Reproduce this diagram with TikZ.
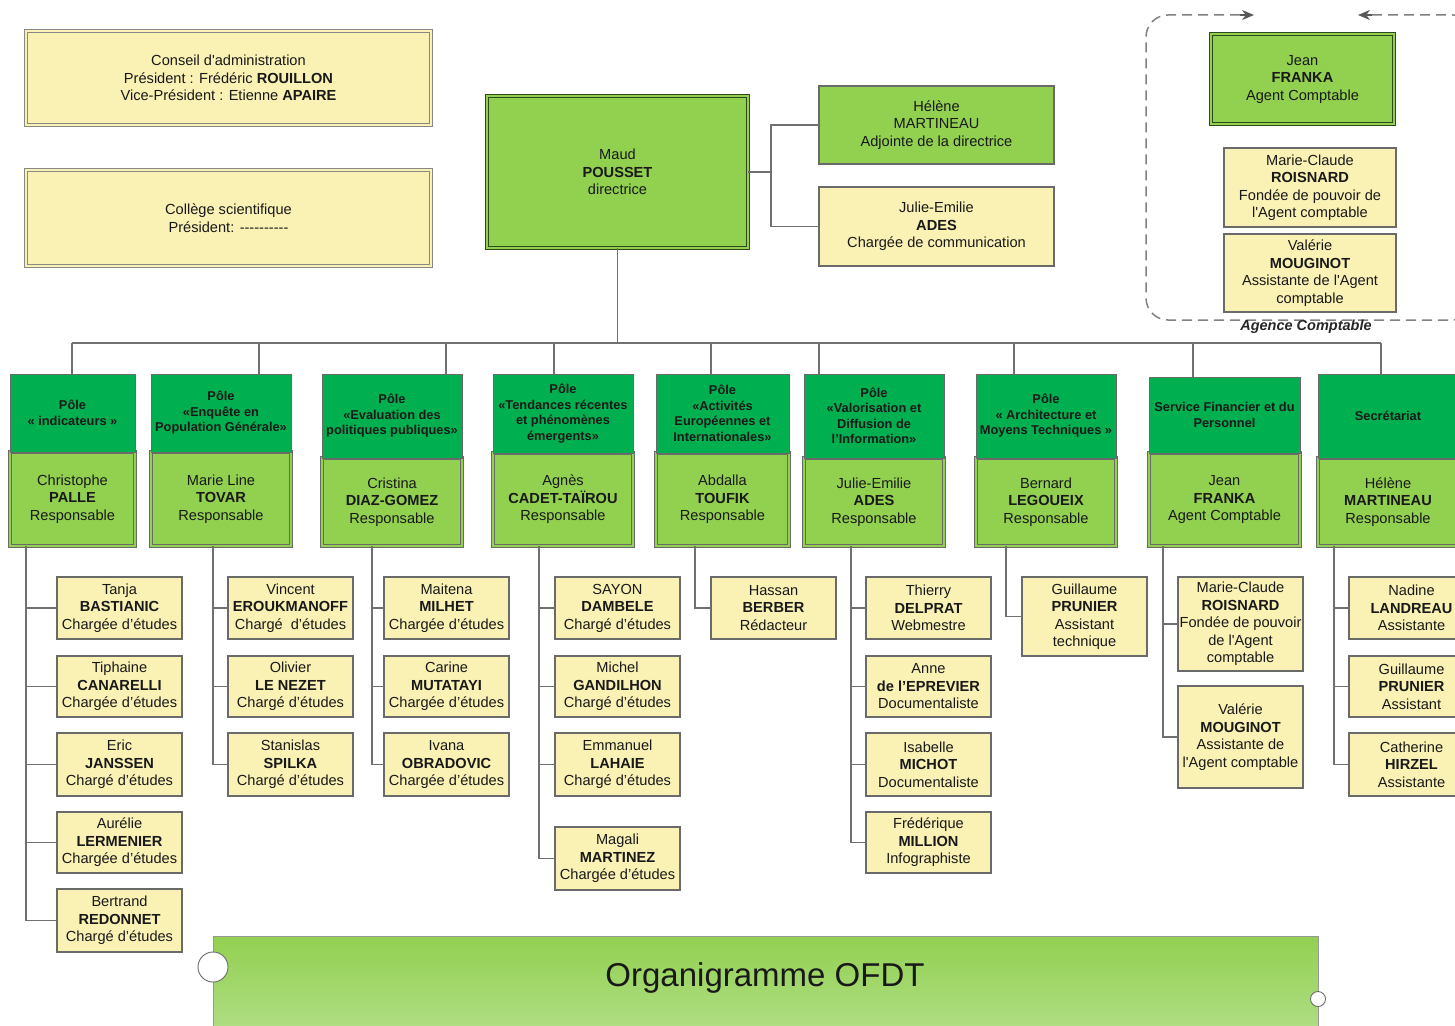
\documentclass[tikz,border=0pt]{standalone}
\usepackage{fontspec}
\setmainfont{Liberation Sans}[Ligatures=TeXOff]
\usetikzlibrary{arrows.meta}
\definecolor{cyel}{HTML}{FAF1B4}
\definecolor{clight}{HTML}{92D050}
\definecolor{cdark}{HTML}{00B050}
\definecolor{cbord}{HTML}{6A6A6A}
\definecolor{cconn}{HTML}{707070}
\definecolor{cdir}{HTML}{2E4A1C}
\definecolor{cban}{HTML}{B5E08E}
\newcommand\fsA{\fontsize{14.6}{17.5}\selectfont}
\newcommand\fsH{\fontsize{12.8}{15.5}\selectfont\bfseries}
\newcommand\bx[7]{\node[#6, minimum width={#4-#2}, minimum height={#5-#3}] (#1) at ({(#2+#4)/2},{(#3+#5)/2}) {#7};}
\tikzset{
  base/.style={rectangle, inner sep=0pt, outer sep=0pt, align=center, font=\fsA, text=black!90},
  staff/.style={base, fill=cyel, draw=cbord, line width=1.2pt},
  head/.style={base, fill=cdark, draw=cbord, line width=1pt, font=\fsH},
  resp/.style={base, fill=clight, draw=cbord, line width=0.9pt, double=clight, double distance=2.6pt},
  topbox/.style={base, fill=cyel, draw=cbord!80, line width=0.9pt, double=cyel, double distance=2.6pt},
  dirbox/.style={base, fill=clight, draw=cdir, line width=1.1pt, double=clight, double distance=2.6pt},
  gbox/.style={base, fill=clight, draw=cbord, line width=1.2pt},
  conn/.style={draw=cconn, line width=1.3pt},
  dashbox/.style={draw=black!50, line width=1.5pt, dash pattern=on 10pt off 6pt, rounded corners=22pt},
  tipline/.style={draw=black!65, line width=1.5pt, -{Stealth[length=12pt,width=10pt]}},
}
\begin{document}
\begin{tikzpicture}[x=1pt,y=-1pt]
\useasboundingbox (0,0) rectangle (1455,1025);
\clip (0,0) rectangle (1455,1025);
\fill[white] (0,0) rectangle (1455,1025);

% top left boxes
\bx{conseil}{26}{31}{431}{125}{topbox}{Conseil d'administration\\Président : Frédéric \textbf{ROUILLON}\\Vice-Président : Etienne \textbf{APAIRE}}
\bx{college}{26}{170}{431}{266}{topbox}{Collège scientifique\\Président: ----------}

% director
\bx{dir}{487}{96}{748}{248}{dirbox}{Maud\\\textbf{POUSSET}\\directrice}
\bx{mart}{819}{86}{1054}{164}{gbox}{Hélène\\MARTINEAU\\Adjointe de la directrice}
\bx{ades}{819}{187}{1054}{266}{staff}{Julie-Emilie\\\textbf{ADES}\\Chargée de communication}
\draw[conn] (dir.east) -- ([xshift=23]dir.east) |- (mart.west);
\draw[conn] ([xshift=23]dir.east) |- (ades.west);

% agency
\draw[dashbox] (1240,15) -- (1146,15) -- (1146,320) -- (1475,320) -- (1475,15) -- (1372,15);
\coordinate (arL) at (1254,15);
\coordinate (arR) at (1358,15);
\draw[tipline] ([xshift=-14]arL) -- (arL);
\draw[tipline] ([xshift=14]arR) -- (arR);
\bx{afranka}{1211}{34}{1394}{124}{dirbox}{Jean\\\textbf{FRANKA}\\Agent Comptable}
\bx{aroisn}{1224}{148}{1396}{227}{staff}{Marie-Claude\\\textbf{ROISNARD}\\Fondée de pouvoir de\\l'Agent comptable}
\bx{amoug}{1224}{234}{1396}{312}{staff}{Valérie\\\textbf{MOUGINOT}\\Assistante de l'Agent\\comptable}
\node[font=\fontsize{14.5}{16}\selectfont\bfseries\itshape, text=black!85] (agence) at (1306,327) {Agence Comptable};

% bus
\coordinate (d1) at (72,343);
\coordinate (d2) at (259,343);
\coordinate (d3) at (446,343);
\coordinate (d4) at (554,343);
\coordinate (d5) at (711,343);
\coordinate (d6) at (819,343);
\coordinate (d7) at (1014,343);
\coordinate (d8) at (1193,343);
\coordinate (d9) at (1381,343);
\draw[conn] (d1) -- (d9);
\draw[conn] (dir.south) -- (dir.south |- d1);

% poles
\bx{r1}{10}{452}{135}{546}{resp}{Christophe\\\textbf{PALLE}\\Responsable}
\bx{h1}{10}{374}{135}{452}{head}{Pôle\\« indicateurs »}
\bx{r2}{151}{452}{291}{546}{resp}{Marie Line\\\textbf{TOVAR}\\Responsable}
\bx{h2}{151}{374}{291}{452}{head}{Pôle\\«Enquête en\\Population Générale»}
\bx{r3}{322}{458}{462}{546}{resp}{Cristina\\\textbf{DIAZ-GOMEZ}\\Responsable}
\bx{h3}{322}{374}{462}{458}{head}{Pôle\\«Evaluation des\\politiques publiques»}
\bx{r4}{493}{453}{633}{546}{resp}{Agnès\\\textbf{CADET-TAÏROU}\\Responsable}
\bx{h4}{493}{374}{633}{453}{head}{Pôle\\«Tendances récentes\\et phénomènes\\émergents»}
\bx{r5}{656}{453}{789}{546}{resp}{Abdalla\\\textbf{TOUFIK}\\Responsable}
\bx{h5}{656}{374}{789}{453}{head}{Pôle\\«Activités\\Européennes et\\Internationales»}
\bx{r6}{804}{458}{944}{546}{resp}{Julie-Emilie\\\textbf{ADES}\\Responsable}
\bx{h6}{804}{374}{944}{458}{head}{Pôle\\«Valorisation et\\Diffusion de\\l’Information»}
\bx{r7}{976}{458}{1116}{546}{resp}{Bernard\\\textbf{LEGOUEIX}\\Responsable}
\bx{h7}{976}{374}{1116}{458}{head}{Pôle\\« Architecture et\\Moyens Techniques »}
\bx{r8}{1149}{453}{1300}{546}{resp}{Jean\\\textbf{FRANKA}\\Agent Comptable}
\bx{h8}{1149}{377}{1300}{453}{head}{Service Financier et du\\Personnel}
\bx{r9}{1318}{458}{1458}{546}{resp}{Hélène\\\textbf{MARTINEAU}\\Responsable}
\bx{h9}{1318}{374}{1458}{458}{head}{Secrétariat}

\foreach \i in {1,...,9} {\draw[conn] (d\i) -- (d\i |- h\i.north);}

% column 1
\bx{s11}{57}{577}{182}{639}{staff}{Tanja\\\textbf{BASTIANIC}\\Chargée d’études}
\bx{s12}{57}{656}{182}{717}{staff}{Tiphaine\\\textbf{CANARELLI}\\Chargée d’études}
\bx{s13}{57}{733}{182}{796}{staff}{Eric\\\textbf{JANSSEN}\\Chargé d’études}
\bx{s14}{57}{812}{182}{873}{staff}{Aurélie\\\textbf{LERMENIER}\\Chargée d’études}
\bx{s15}{57}{889}{182}{952}{staff}{Bertrand\\\textbf{REDONNET}\\Chargé d’études}
\foreach \s in {s11,s12,s13,s14,s15} {\draw[conn] ([xshift=16]r1.south west) |- (\s.west);}

% column 2
\bx{s21}{228}{577}{353}{639}{staff}{Vincent\\\textbf{EROUKMANOFF}\\Chargé \ d’études}
\bx{s22}{228}{656}{353}{717}{staff}{Olivier\\\textbf{LE NEZET}\\Chargé d’études}
\bx{s23}{228}{733}{353}{796}{staff}{Stanislas\\\textbf{SPILKA}\\Chargé d’études}
\foreach \s in {s21,s22,s23} {\draw[conn] ([xshift=62]r2.south west) |- (\s.west);}

% column 3
\bx{s31}{384}{577}{509}{639}{staff}{Maitena\\\textbf{MILHET}\\Chargée d’études}
\bx{s32}{384}{656}{509}{717}{staff}{Carine\\\textbf{MUTATAYI}\\Chargée d’études}
\bx{s33}{384}{733}{509}{796}{staff}{Ivana\\\textbf{OBRADOVIC}\\Chargée d’études}
\foreach \s in {s31,s32,s33} {\draw[conn] ([xshift=50]r3.south west) |- (\s.west);}

% column 4
\bx{s41}{555}{577}{680}{639}{staff}{SAYON\\\textbf{DAMBELE}\\Chargé d’études}
\bx{s42}{555}{656}{680}{717}{staff}{Michel\\\textbf{GANDILHON}\\Chargé d’études}
\bx{s43}{555}{733}{680}{796}{staff}{Emmanuel\\\textbf{LAHAIE}\\Chargé d’études}
\bx{s44}{555}{827}{680}{890}{staff}{Magali\\\textbf{MARTINEZ}\\Chargée d’études}
\foreach \s in {s41,s42,s43,s44} {\draw[conn] ([xshift=46]r4.south west) |- (\s.west);}

% column 5
\bx{s51}{711}{577}{836}{639}{staff}{Hassan\\\textbf{BERBER}\\Rédacteur}
\draw[conn] ([xshift=39]r5.south west) |- (s51.west);

% column 6
\bx{s61}{866}{577}{991}{639}{staff}{Thierry\\\textbf{DELPRAT}\\Webmestre}
\bx{s62}{866}{656}{991}{717}{staff}{Anne\\\textbf{de l’EPREVIER}\\Documentaliste}
\bx{s63}{866}{733}{991}{796}{staff}{Isabelle\\\textbf{MICHOT}\\Documentaliste}
\bx{s64}{866}{812}{991}{873}{staff}{Frédérique\\\textbf{MILLION}\\Infographiste}
\foreach \s in {s61,s62,s63,s64} {\draw[conn] ([xshift=47]r6.south west) |- (\s.west);}

% column 7
\bx{s71}{1022}{577}{1147}{656}{staff}{Guillaume\\\textbf{PRUNIER}\\Assistant\\technique}
\draw[conn] ([xshift=30]r7.south west) |- (s71.west);

% column 8
\bx{s81}{1178}{577}{1303}{671}{staff}{Marie-Claude\\\textbf{ROISNARD}\\Fondée de pouvoir\\de l'Agent\\comptable}
\bx{s82}{1178}{686}{1303}{788}{staff}{Valérie\\\textbf{MOUGINOT}\\Assistante de\\l'Agent comptable}
\foreach \s in {s81,s82} {\draw[conn] ([xshift=14]r8.south west) |- (\s.west);}

% column 9
\bx{s91}{1349}{577}{1474}{639}{staff}{Nadine\\\textbf{LANDREAU}\\Assistante}
\bx{s92}{1349}{656}{1474}{717}{staff}{Guillaume\\\textbf{PRUNIER}\\Assistant}
\bx{s93}{1349}{733}{1474}{796}{staff}{Catherine\\\textbf{HIRZEL}\\Assistante}
\foreach \s in {s91,s92,s93} {\draw[conn] ([xshift=16]r9.south west) |- (\s.west);}

% banner
\node[rectangle, inner sep=0pt, draw=cbord!70, line width=1pt, top color=clight, bottom color=cban, minimum width=1105, minimum height=110] (ban) at (765.5,991) {};
\node[font=\fontsize{33}{38}\selectfont, text=black!90] (title) at (765,978) {Organigramme OFDT};
\node[circle, draw=cbord, fill=white, line width=0.9pt, minimum size=30pt, inner sep=0pt] (c1) at (213,967) {};
\node[circle, draw=cbord, fill=white, line width=0.9pt, minimum size=15pt, inner sep=0pt] (c2) at (1318,999) {};
\end{tikzpicture}
\end{document}
